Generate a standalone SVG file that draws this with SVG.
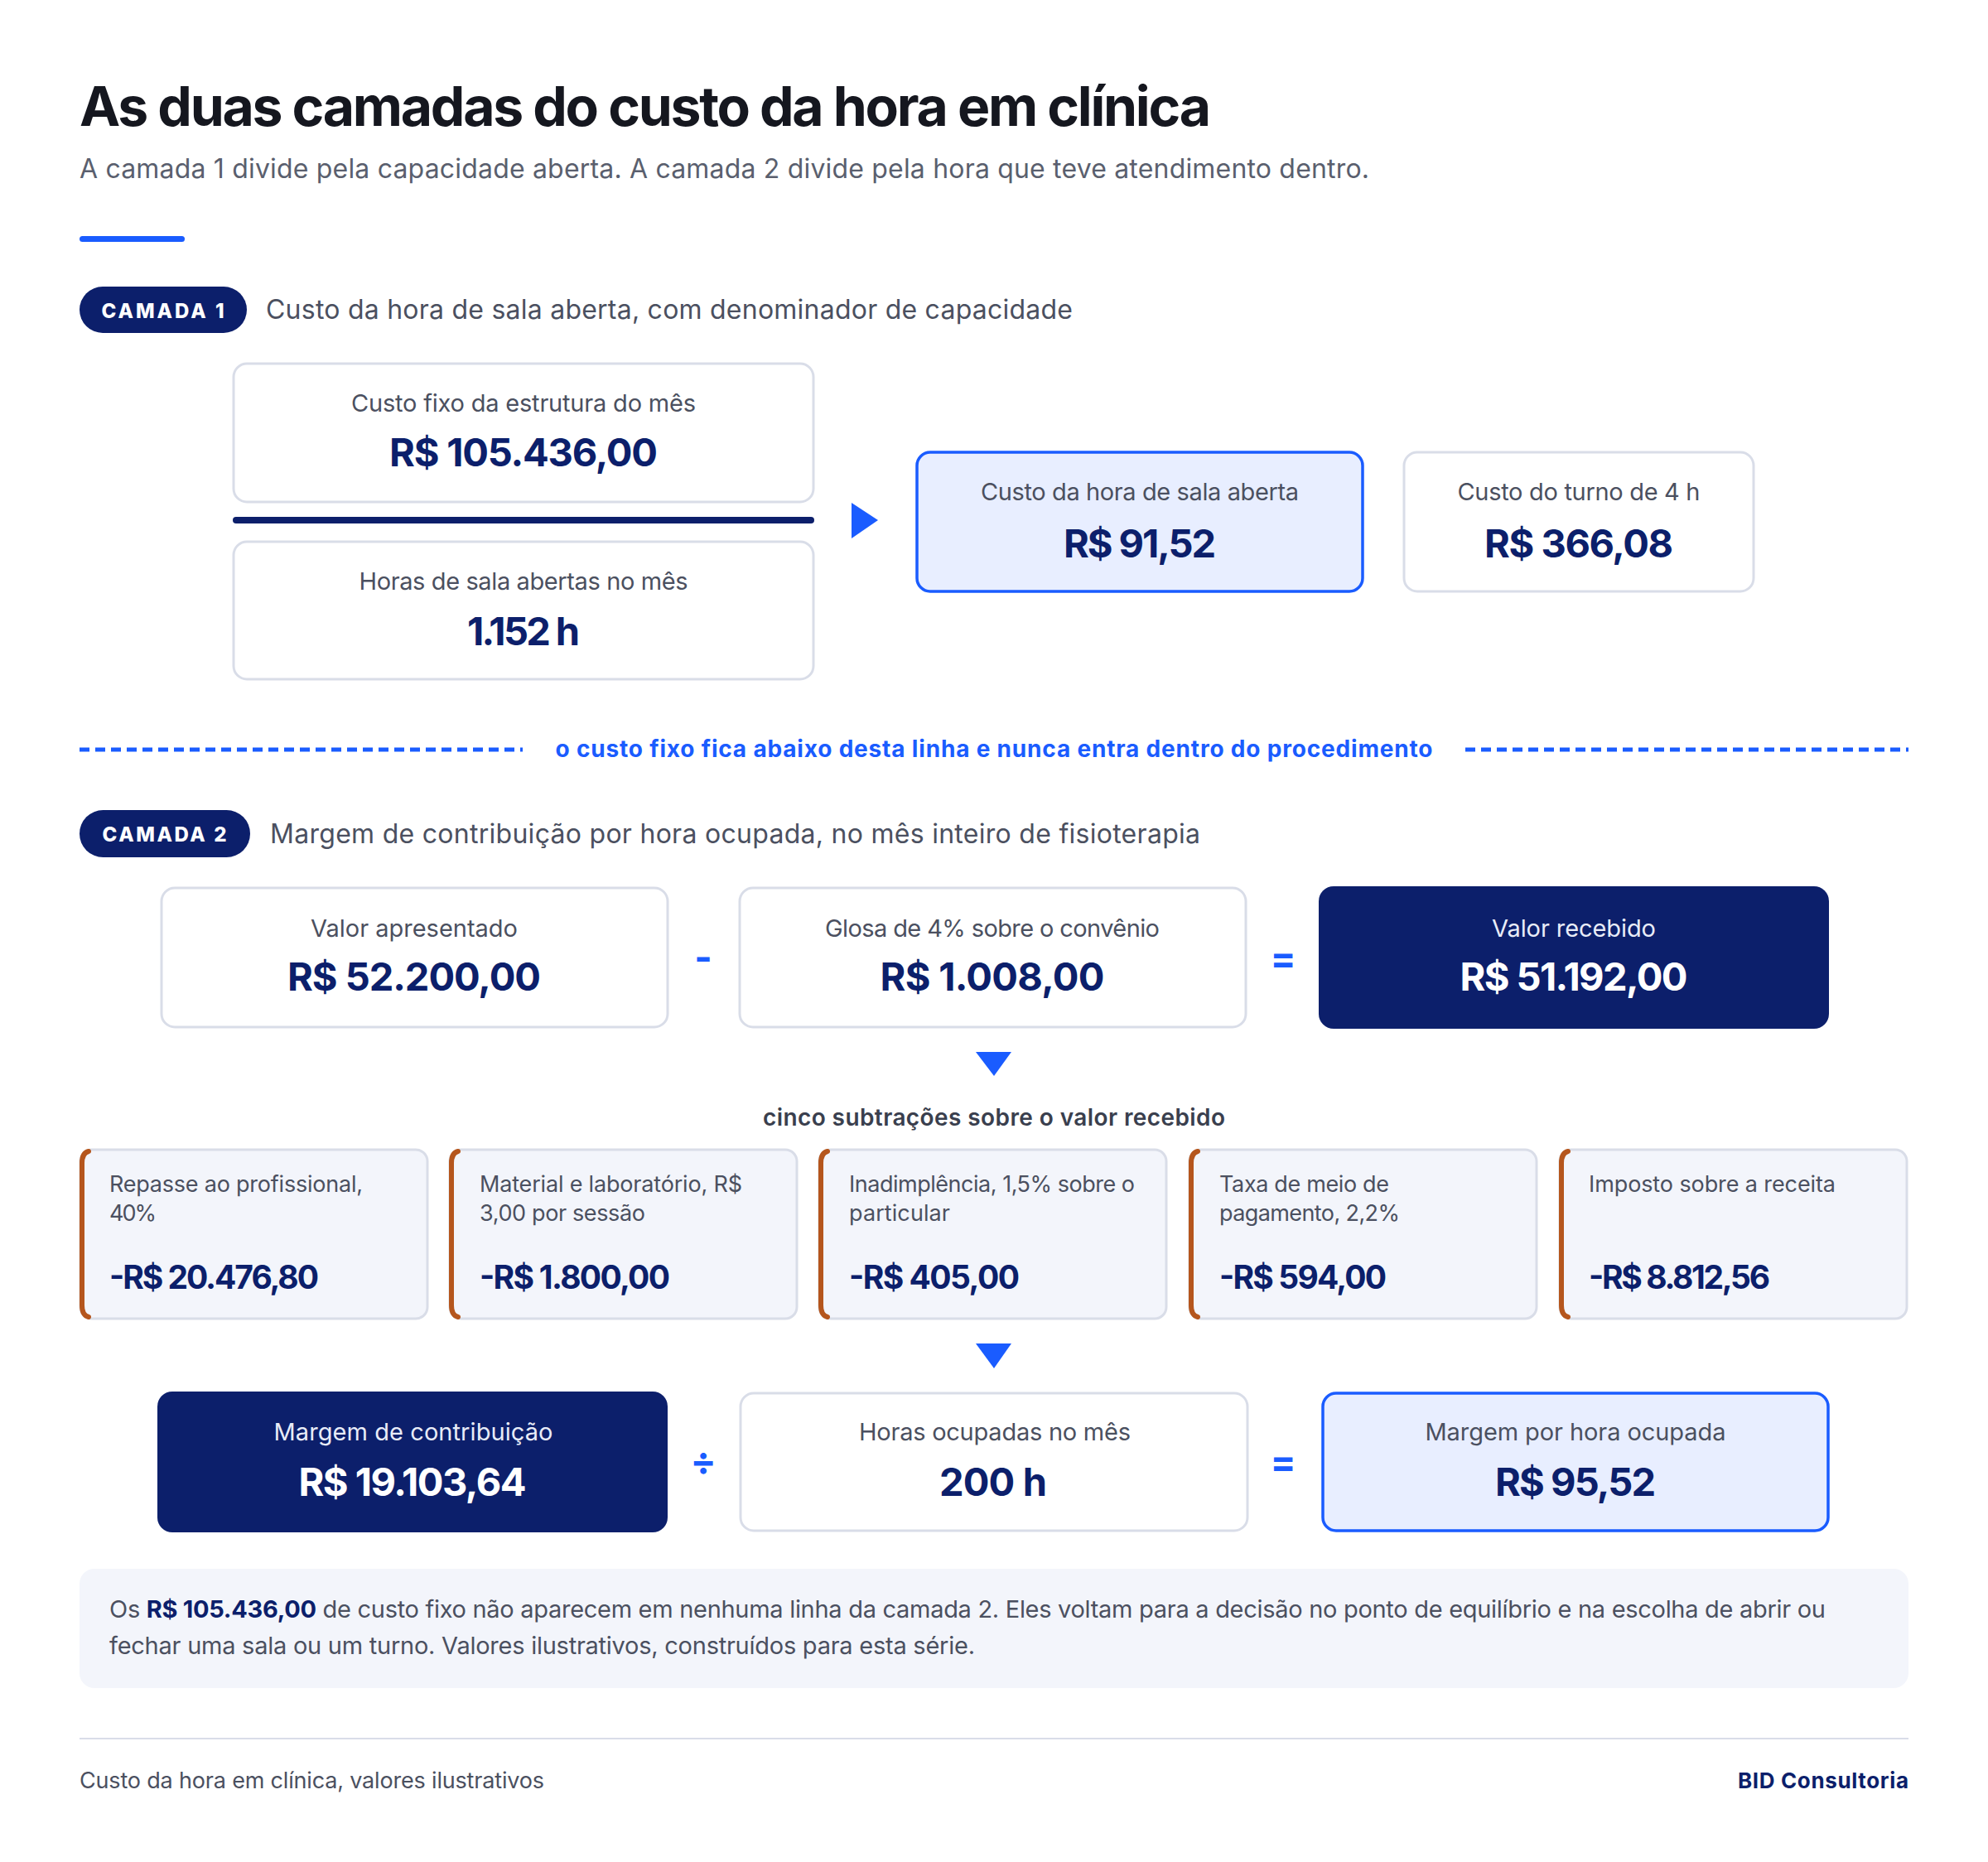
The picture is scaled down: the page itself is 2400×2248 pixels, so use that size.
<svg xmlns="http://www.w3.org/2000/svg" width="2400" height="2248" viewBox="0 0 2400 2248">
<style>
text{font-family:Inter,"Noto Sans","Liberation Sans",sans-serif}
.title{font-size:66px;font-weight:700;fill:#15171f}
.sub{font-size:32px;fill:#5a5f6e}
.head{font-size:32px;fill:#4b5060}
.pilltxt{font-size:24px;font-weight:800;fill:#ffffff;letter-spacing:1px}
.lbl{font-size:29px;fill:#4b5060;text-anchor:middle}
.val{font-size:47px;font-weight:700;fill:#0c1f6b;text-anchor:middle}
.lblw{font-size:29px;fill:#e8ecf8;text-anchor:middle}
.valw{font-size:47px;font-weight:700;fill:#ffffff;text-anchor:middle}
.box{fill:#ffffff;stroke:#d9dde8;stroke-width:3}
.boxblue{fill:#e8eeff;stroke:#1a5cff;stroke-width:3.5}
.boxdark{fill:#0c1f6b}
.subbox{fill:#f3f5fb;stroke:#d9dde8;stroke-width:3}
.accent{fill:none;stroke:#b5561d;stroke-width:6;stroke-linecap:round}
.slbl{font-size:27px;fill:#4b5060}
.sval{font-size:39px;font-weight:700;fill:#0c1f6b}
.op{font-size:46px;font-weight:700;fill:#1a5cff;text-anchor:middle}
.tri{fill:#1a5cff}
.dash{stroke:#1a5cff;stroke-width:5;stroke-dasharray:12 7}
.note{font-size:29px;fill:#4b5060}
.foot{font-size:27px;fill:#4b5060}
</style>

<g id="header">
<text class="title" x="96" y="152" textLength="1366">As duas camadas do custo da hora em clínica</text>
<text class="sub" x="96" y="215" textLength="1557">A camada 1 divide pela capacidade aberta. A camada 2 divide pela hora que teve atendimento dentro.</text>
<rect x="96" y="285" width="127" height="7" rx="3.5" fill="#1a5cff"/>
</g>

<g id="camada1-label">
<rect x="96" y="346" width="202" height="56" rx="28" fill="#0c1f6b"/>
<text class="pilltxt" x="197" y="384" text-anchor="middle" textLength="149">CAMADA 1</text>
<text class="head" x="321" y="385" textLength="974">Custo da hora de sala aberta, com denominador de capacidade</text>
</g>

<g id="node-custo-fixo">
<rect class="box" x="282" y="439" width="700" height="167" rx="16"/>
<text class="lbl" x="632" y="497" textLength="416">Custo fixo da estrutura do mês</text>
<text class="val" x="632" y="563" textLength="324">R$ 105.436,00</text>
</g>

<g id="node-horas-abertas">
<rect class="box" x="282" y="654" width="700" height="166" rx="16"/>
<text class="lbl" x="632" y="712" textLength="397">Horas de sala abertas no mês</text>
<text class="val" x="632" y="779" textLength="136">1.152 h</text>
</g>

<g id="node-custo-hora">
<rect class="boxblue" x="1107" y="546" width="538" height="168" rx="16"/>
<text class="lbl" x="1376" y="604" textLength="384">Custo da hora de sala aberta</text>
<text class="val" x="1376" y="673" textLength="184">R$ 91,52</text>
</g>

<g id="node-custo-turno">
<rect class="box" x="1695" y="546" width="422" height="168" rx="16"/>
<text class="lbl" x="1906" y="604" textLength="293">Custo do turno de 4 h</text>
<text class="val" x="1906" y="673" textLength="228">R$ 366,08</text>
</g>

<g id="divider-line">
<line class="dash" x1="96" y1="905" x2="631" y2="905"/>
<line class="dash" x1="1769" y1="905" x2="2304" y2="905"/>
<text x="1200" y="914" text-anchor="middle" font-size="28" font-weight="700" fill="#1a5cff" textLength="1059">o custo fixo fica abaixo desta linha e nunca entra dentro do procedimento</text>
</g>

<g id="camada2-label">
<rect x="96" y="978" width="206" height="57" rx="28.5" fill="#0c1f6b"/>
<text class="pilltxt" x="199" y="1016" text-anchor="middle" textLength="151">CAMADA 2</text>
<text class="head" x="326" y="1018" textLength="1123">Margem de contribuição por hora ocupada, no mês inteiro de fisioterapia</text>
</g>

<g id="node-valor-apresentado">
<rect class="box" x="195" y="1072" width="611" height="168" rx="16"/>
<text class="lbl" x="500" y="1131" textLength="250">Valor apresentado</text>
<text class="val" x="500" y="1196" textLength="306">R$ 52.200,00</text>
</g>

<g id="node-glosa">
<rect class="box" x="893" y="1072" width="611" height="168" rx="16"/>
<text class="lbl" x="1198" y="1131" textLength="404">Glosa de 4% sobre o convênio</text>
<text class="val" x="1198" y="1196" textLength="271">R$ 1.008,00</text>
</g>

<g id="node-valor-recebido">
<rect class="boxdark" x="1592" y="1070" width="616" height="172" rx="18"/>
<text class="lblw" x="1900" y="1131" textLength="198">Valor recebido</text>
<text class="valw" x="1900" y="1196" textLength="275">R$ 51.192,00</text>
</g>

<g id="node-subtracoes-titulo">
<text x="1200" y="1359" text-anchor="middle" font-size="28" font-weight="600" fill="#3a3f4e" textLength="558">cinco subtrações sobre o valor recebido</text>
</g>

<g id="node-repasse">
<rect class="subbox" x="97" y="1388" width="419" height="204" rx="14"/>
<path class="accent" d="M107,1390 Q99,1392 99,1404 V1576 Q99,1588 107,1590"/>
<text class="slbl" x="132" y="1439" textLength="306">Repasse ao profissional,</text>
<text class="slbl" x="132" y="1474" textLength="57">40%</text>
<text class="sval" x="132" y="1556" textLength="253">-R$ 20.476,80</text>
</g>

<g id="node-material">
<rect class="subbox" x="543" y="1388" width="419" height="204" rx="14"/>
<path class="accent" d="M553,1390 Q545,1392 545,1404 V1576 Q545,1588 553,1590"/>
<text class="slbl" x="579" y="1439" textLength="317">Material e laboratório, R$</text>
<text class="slbl" x="579" y="1474" textLength="200">3,00 por sessão</text>
<text class="sval" x="579" y="1556" textLength="230">-R$ 1.800,00</text>
</g>

<g id="node-inadimplencia">
<rect class="subbox" x="989" y="1388" width="419" height="204" rx="14"/>
<path class="accent" d="M999,1390 Q991,1392 991,1404 V1576 Q991,1588 999,1590"/>
<text class="slbl" x="1025" y="1439" textLength="345">Inadimplência, 1,5% sobre o</text>
<text class="slbl" x="1025" y="1474" textLength="122">particular</text>
<text class="sval" x="1025" y="1556" textLength="206">-R$ 405,00</text>
</g>

<g id="node-taxa">
<rect class="subbox" x="1436" y="1388" width="419" height="204" rx="14"/>
<path class="accent" d="M1446,1390 Q1438,1392 1438,1404 V1576 Q1438,1588 1446,1590"/>
<text class="slbl" x="1472" y="1439" textLength="205">Taxa de meio de</text>
<text class="slbl" x="1472" y="1474" textLength="218">pagamento, 2,2%</text>
<text class="sval" x="1472" y="1556" textLength="202">-R$ 594,00</text>
</g>

<g id="node-imposto">
<rect class="subbox" x="1883" y="1388" width="419" height="204" rx="14"/>
<path class="accent" d="M1893,1390 Q1885,1392 1885,1404 V1576 Q1885,1588 1893,1590"/>
<text class="slbl" x="1918" y="1439" textLength="298">Imposto sobre a receita</text>
<text class="sval" x="1918" y="1556" textLength="219">-R$ 8.812,56</text>
</g>

<g id="node-margem">
<rect class="boxdark" x="190" y="1680" width="616" height="170" rx="18"/>
<text class="lblw" x="499" y="1739" textLength="337">Margem de contribuição</text>
<text class="valw" x="498" y="1806" textLength="275">R$ 19.103,64</text>
</g>

<g id="node-horas-ocupadas">
<rect class="box" x="894" y="1682" width="612" height="166" rx="16"/>
<text class="lbl" x="1201" y="1739" textLength="328">Horas ocupadas no mês</text>
<text class="val" x="1199" y="1806" textLength="130">200 h</text>
</g>

<g id="node-margem-hora">
<rect class="boxblue" x="1597" y="1682" width="610" height="166" rx="16"/>
<text class="lbl" x="1902" y="1739" textLength="363">Margem por hora ocupada</text>
<text class="val" x="1902" y="1806" textLength="194">R$ 95,52</text>
</g>

<g id="connectors">
<polygon class="tri" points="1028,607 1060,628 1028,650"/>
<rect x="281" y="624" width="702" height="8" rx="4" fill="#0c1f6b"/>
<text class="op" x="849" y="1172">-</text>
<text class="op" x="1549" y="1173">=</text>
<polygon class="tri" points="1178,1270 1221,1270 1200,1299"/>
<polygon class="tri" points="1178,1622 1221,1622 1200,1652"/>
<text class="op" x="849" y="1780">÷</text>
<text class="op" x="1549" y="1781">=</text>
</g>

<g id="note">
<rect x="96" y="1894" width="2208" height="144" rx="18" fill="#f3f5fb"/>
<text class="note" x="132" y="1953" textLength="2072">Os <tspan font-weight="700" fill="#0c1f6b">R$ 105.436,00</tspan> de custo fixo não aparecem em nenhuma linha da camada 2. Eles voltam para a decisão no ponto de equilíbrio e na escolha de abrir ou</text>
<text class="note" x="132" y="1997" textLength="1045">fechar uma sala ou um turno. Valores ilustrativos, construídos para esta série.</text>
</g>

<g id="footer">
<line x1="96" y1="2099" x2="2304" y2="2099" stroke="#d9dde8" stroke-width="2"/>
<text class="foot" x="96" y="2159" textLength="561">Custo da hora em clínica, valores ilustrativos</text>
<text x="2304" y="2159" text-anchor="end" font-size="26" font-weight="700" fill="#0c1f6b" textLength="206">BID Consultoria</text>
</g>
</svg>
